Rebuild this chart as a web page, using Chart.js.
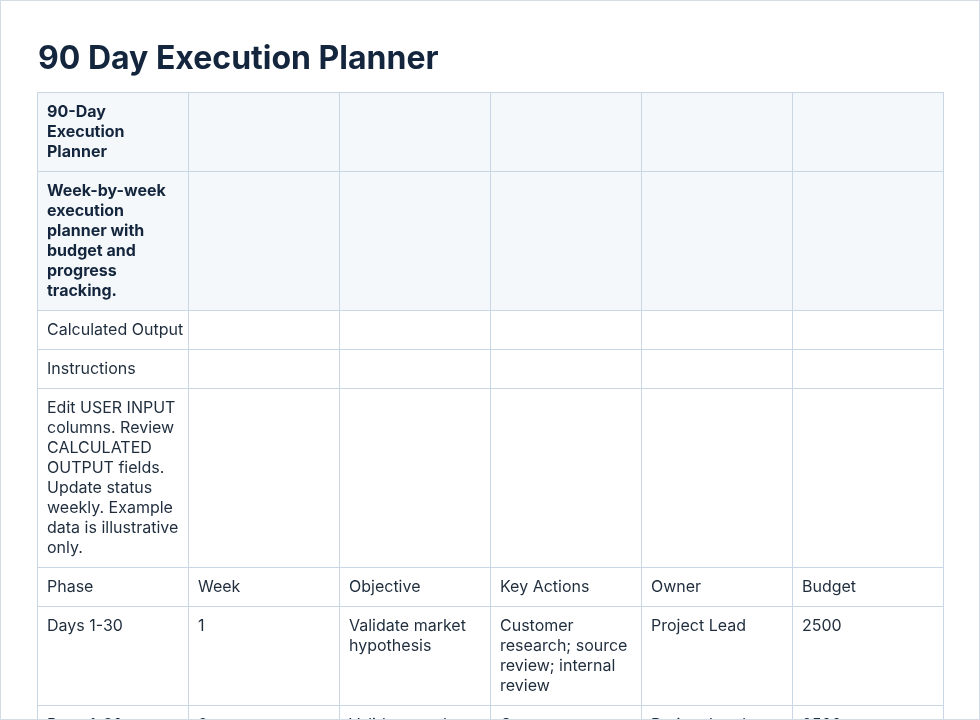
<!DOCTYPE html>
<html><head><meta charset="utf-8">
<script src="https://cdn.jsdelivr.net/npm/chart.js@4.4.1/dist/chart.umd.min.js"></script>
<style>
html,body{margin:0;padding:0;background:#fff;}
#wrap{position:relative;width:978px;height:718px;border:1px solid #d3dde8;overflow:hidden;}
canvas{display:block;}
</style></head><body>
<div id="wrap"><canvas id="c" width="978" height="718"></canvas></div>
<script>
const title = "90 Day Execution Planner";
const columns = ["A","B","C","D","E","F"];
const rowTexts = [
  ["90-Day\nExecution\nPlanner","","","","",""],
  ["Week-by-week\nexecution\nplanner with\nbudget and\nprogress\ntracking.","","","","",""],
  ["Calculated Output","","","","",""],
  ["Instructions","","","","",""],
  ["Edit USER INPUT\ncolumns. Review\nCALCULATED\nOUTPUT fields.\nUpdate status\nweekly. Example\ndata is illustrative\nonly.","","","","",""],
  ["Phase","Week","Objective","Key Actions","Owner","Budget"],
  ["Days 1-30","1","Validate market\nhypothesis","Customer\nresearch; source\nreview; internal\nreview","Project Lead","2500"],
  ["Days 1-30","2","Validate market\nhypothesis","Customer\nresearch; source\nreview; internal\nreview","Project Lead","2500"]
];
const headerRows = [true,true,false,false,false,false,false,false];

const lineH=20, padY=19;
const rowHeights = rowTexts.map(r=>Math.max(...r.map(t=>t.split("\n").length))*lineH+padY);
const bounds=[0]; rowHeights.forEach(h=>bounds.push(bounds[bounds.length-1]+h));

const tablePlugin={id:'tbl',afterDraw(chart){
  const ctx=chart.ctx, xs=chart.scales.x, ys=chart.scales.y;
  ctx.save();
  ctx.fillStyle='#14263d';ctx.font='bold 32px Inter';ctx.textBaseline='alphabetic';
  ctx.fillText(title,37,68);
  rowTexts.forEach((row,ri)=>{
    const y0=ys.getPixelForValue(bounds[ri]), y1=ys.getPixelForValue(bounds[ri+1]);
    row.forEach((txt,ci)=>{
      const x0=xs.getPixelForValue(ci), x1=xs.getPixelForValue(ci+1);
      if(headerRows[ri]){ctx.fillStyle='#f5f8fa';ctx.fillRect(x0,y0,x1-x0,y1-y0);}
      ctx.strokeStyle='#c9d6e3';ctx.lineWidth=1;
      ctx.strokeRect(Math.round(x0)+0.5,Math.round(y0)+0.5,Math.round(x1-x0),Math.round(y1-y0));
      ctx.fillStyle=headerRows[ri]?'#14263d':'#1f2d3d';
      ctx.font=(headerRows[ri]?'bold ':'')+'16px Inter';
      txt.split("\n").forEach((ln,li)=>ctx.fillText(ln,x0+10,y0+25+li*lineH));
    });
  });
  ctx.restore();
}};

new Chart(document.getElementById('c'),{
  type:'scatter',
  data:{datasets:[{data:[]}]},
  options:{responsive:false,animation:false,
    layout:{padding:{left:36,right:978-942,top:91,bottom:0}},
    plugins:{legend:{display:false},tooltip:{enabled:false}},
    scales:{
      x:{type:'linear',min:0,max:columns.length,display:false},
      y:{type:'linear',reverse:true,min:0,max:718-91,display:false}
    }},
  plugins:[tablePlugin]
});
</script></body></html>
